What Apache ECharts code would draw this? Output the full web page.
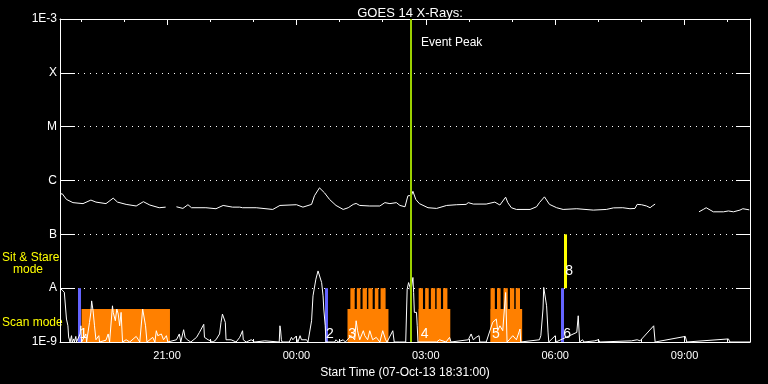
<!DOCTYPE html>
<html><head><meta charset="utf-8">
<script src="https://cdn.jsdelivr.net/npm/echarts@6/dist/echarts.min.js"></script>
<style>html,body{margin:0;padding:0;background:#000}#c{width:768px;height:384px}</style>
</head><body><div id="c"></div>
<script>
// ---------------- data ----------------
const startTime = "18:31";
const spanHours = 16;
const tickLabels = ["21:00","00:00","03:00","06:00","09:00"];
const minorTickTimes = ["19:00","20:00","21:00","22:00","23:00","00:00","01:00","02:00","03:00","04:00","05:00","06:00","07:00","08:00","09:00","10:00"];
const yLevels = [1e-9,1e-8,1e-7,1e-6,1e-5,1e-4,1e-3];
const yLevelNames = ["1E-9","A","B","C","M","X","1E-3"];

// GOES long channel (1-8 A)
const longTimes = ["18:31","18:34","18:40","18:49","19:03","19:14","19:21","19:35","19:45","19:51","20:03","20:17","20:27","20:36","20:49","20:58","21:05","21:13","21:22","21:29","21:34","21:54","22:08","22:18","22:31","22:41","22:45","23:04","23:27","23:37","00:00","00:09","00:21","00:25","00:32","00:39","00:46","00:55","01:05","01:12","01:19","01:23","01:28","01:42","01:56","02:03","02:10","02:19","02:24","02:31","02:35","02:40","02:42","02:46","02:51","03:03","03:15","03:29","03:43","03:56","03:59","04:06","04:24","04:36","04:43","04:51","04:54","04:59","05:06","05:25","05:34","05:38","05:45","05:52","06:02","06:11","06:30","06:53","07:11","07:21","07:34","07:44","07:51","07:54","08:00","08:07","08:12","08:15","08:19","08:50","09:20","09:26","09:30","09:40","09:54","10:01","10:08","10:17","10:21","10:30"];
const longFlux = [5.5e-7,5.7e-7,4.45e-7,3.88e-7,3.72e-7,4.33e-7,3.97e-7,3.72e-7,4.7e-7,3.97e-7,3.6e-7,3.36e-7,4.04e-7,3.5e-7,3.12e-7,3.2e-7,null,3.25e-7,3.03e-7,3.55e-7,3.12e-7,3.12e-7,2.99e-7,3.44e-7,3.2e-7,3.2e-7,3.12e-7,3.12e-7,2.9e-7,3.44e-7,3.55e-7,3.2e-7,3.6e-7,5.2e-7,7.3e-7,5.9e-7,4.45e-7,3.44e-7,2.9e-7,3.12e-7,3.6e-7,3.75e-7,3.44e-7,3.36e-7,3.36e-7,3.88e-7,3.72e-7,3.88e-7,3.44e-7,3.25e-7,5.2e-7,5.27e-7,6.3e-7,4.45e-7,3.72e-7,3.12e-7,3.03e-7,3.44e-7,3.55e-7,3.6e-7,3.88e-7,3.65e-7,3.65e-7,3.97e-7,3.5e-7,4.9e-7,3.88e-7,3.12e-7,2.9e-7,2.9e-7,3.25e-7,3.88e-7,4.97e-7,3.6e-7,3.12e-7,2.9e-7,2.99e-7,2.82e-7,2.9e-7,3.1e-7,3.12e-7,2.99e-7,3.03e-7,3.6e-7,3.55e-7,3.36e-7,3.12e-7,3.36e-7,3.65e-7,null,2.62e-7,2.9e-7,3.12e-7,2.62e-7,2.62e-7,2.72e-7,2.62e-7,2.82e-7,2.99e-7,2.85e-7];

// GOES short channel (0.5-4 A)
const shortTimes = ["18:31","18:34","18:37","18:40","18:42","18:43","18:45","18:47","18:48","18:50","18:51","18:53","18:54","18:59","19:00","19:01","19:07","19:08","19:12","19:14","19:15","19:17","19:19","19:21","19:25","19:26","19:35","19:38","19:40","19:44","19:45","19:48","19:50","19:52","19:54","19:56","19:58","20:03","20:08","20:17","20:22","20:26","20:28","20:30","20:32","20:40","20:43","20:45","20:47","20:52","20:55","20:59","21:01","21:13","21:17","21:19","21:23","21:25","21:28","21:33","21:41","21:45","21:51","21:52","21:57","22:04","22:08","22:13","22:15","22:17","22:19","22:21","22:22","22:29","22:36","22:41","22:45","22:46","22:50","22:57","23:02","23:16","23:18","23:36","23:37","23:38","23:39","23:40","23:50","23:53","23:55","23:59","00:02","00:05","00:07","00:14","00:16","00:21","00:23","00:27","00:30","00:32","00:35","00:37","00:38","00:40","00:41","00:53","00:55","00:58","01:05","01:08","01:16","01:21","01:23","01:25","01:28","01:33","01:35","01:39","01:42","01:46","01:51","01:56","02:00","02:04","02:06","02:14","02:16","02:23","02:32","02:34","02:36","02:38","02:39","02:42","02:43","02:44","02:47","02:48","02:49","03:15","03:19","03:28","03:33","03:35","03:59","04:03","04:06","04:10","04:14","04:15","04:24","04:33","04:38","04:40","04:43","04:47","04:51","04:53","04:56","05:01","05:06","05:11","05:12","05:38","05:40","05:43","05:44","05:46","05:48","05:50","05:51","06:00","06:01","06:30","06:32","06:34","06:38","06:40","06:55","07:00","07:02","07:46","07:54","07:58","08:00","08:17","08:19","09:01","09:03","10:01","10:03","10:31"];
const shortFlux = [1.0e-8,9.2e-9,8.4e-9,2.67e-9,2.0e-9,1.24e-9,1e-9,1.31e-9,1e-9,1.14e-9,1e-9,1.27e-9,1e-9,1.41e-9,2e-9,1e-9,1.41e-9,1e-9,2.3e-9,3.6e-9,5.8e-9,3.8e-9,2e-9,1.1e-9,1.31e-9,1e-9,1.08e-9,1.41e-9,1e-9,4.7e-9,3.55e-9,2.48e-9,4.1e-9,3.3e-9,2e-9,3.55e-9,1e-9,1.1e-9,1e-9,1.27e-9,1e-9,4.1e-9,4.1e-9,2e-9,1e-9,1.22e-9,1e-9,1.62e-9,1.31e-9,1.41e-9,1.1e-9,1.31e-9,1e-9,1.1e-9,1.41e-9,1e-9,1.69e-9,1.22e-9,1.1e-9,1e-9,1.22e-9,1.51e-9,2.13e-9,1.22e-9,1.1e-9,1e-9,1.1e-9,1.41e-9,2.32e-9,3.3e-9,3.55e-9,2.32e-9,1.1e-9,1.1e-9,1e-9,1.22e-9,1.62e-9,1.1e-9,1e-9,1.1e-9,1e-9,1.05e-9,1e-9,1e-9,2e-9,1.6e-9,1.1e-9,1e-9,1e-9,1.22e-9,1.1e-9,1.27e-9,1e-9,1.31e-9,1.1e-9,1.1e-9,1e-9,2.48e-9,7.2e-9,1.47e-8,2.09e-8,1.96e-8,1.27e-8,7.2e-9,4.1e-9,2e-9,1e-9,1e-9,1.1e-9,1e-9,1.1e-9,1e-9,1.31e-9,1.1e-9,2.48e-9,1.62e-9,1.1e-9,1.62e-9,1.31e-9,1.1e-9,1.62e-9,1.1e-9,1.22e-9,1e-9,1.62e-9,1.1e-9,1e-9,1.62e-9,1e-9,1e-9,1e-9,9.6e-9,1.27e-8,1.03e-8,8.3e-9,1.58e-8,8.3e-9,3.55e-9,3.55e-9,2e-9,1e-9,1e-9,1.1e-9,1e-9,1.22e-9,1e-9,1.1e-9,1.41e-9,1.1e-9,1.22e-9,1.31e-9,1e-9,1e-9,2.32e-9,2.67e-9,1.62e-9,2e-9,1.62e-9,8.3e-9,1e-9,1.1e-9,1.31e-9,1.1e-9,1.74e-9,1e-9,1.1e-9,1.31e-9,4.1e-9,1.03e-8,9.6e-9,4.7e-9,1.53e-9,1e-9,1.31e-9,1e-9,1.51e-9,3.07e-9,1e-9,1.1e-9,1e-9,1.05e-9,1.1e-9,1e-9,1.05e-9,1.1e-9,1.05e-9,1e-9,2e-9,1e-9,1.27e-9,1e-9,1.14e-9,1e-9,1e-9];

// IRIS observation periods
const scanStarts = ["19:01","01:11","02:50","04:30"];
const scanEnds   = ["21:04","02:08","03:34","05:14"];
const scanTop = 4.1e-9;
const stareStarts = ["01:15","01:24","01:32","01:40","01:49","01:57","02:50","02:59","03:07","03:15","03:24","04:30","04:39","04:48","04:57","05:05"];
const stareEnds   = ["01:21","01:29","01:38","01:46","01:54","02:04","02:56","03:04","03:13","03:21","03:30","04:36","04:44","04:54","05:03","05:11"];
const stareTop = 1e-8;
const scanMarkerTimes = ["18:57","00:41","06:10"];
const stareMarkerTimes = ["06:13"];
const eventPeakTime = "02:40";
const obsLabels = ["1","2","3","4","5","6","8"];
const obsLabelTimes = ["18:58","00:41","01:12","02:53","04:32","06:11","06:14"];
const obsLabelLevels = [1e-9,1e-9,1e-9,1e-9,1e-9,1e-9,1.5e-8];

// ---------------- helpers ----------------
function toH(s){ const p=s.split(':'); let v=+p[0]+(+p[1])/60; if(v<18) v+=24; return v; }
const xMin = toH(startTime), xMax = xMin + spanHours;
const majorVals = tickLabels.map(toH);
const minorVals = minorTickTimes.map(toH);
const FLOOR = yLevels[0], A_LEVEL = yLevels[1], B_LEVEL = yLevels[2], TOP = yLevels[yLevels.length-1];
const FONT = 'Liberation Sans';

function rectItem(color){
  return function(params, api){
    const p1 = api.coord([api.value(0), api.value(3)]);
    const p2 = api.coord([api.value(1), api.value(2)]);
    return {type:'rect', shape:{x:p1[0], y:p1[1], width:p2[0]-p1[0], height:p2[1]-p1[1]}, style:{fill:color}};
  };
}
function barItem(color){
  return function(params, api){
    const p1 = api.coord([api.value(0), api.value(2)]);
    const p2 = api.coord([api.value(0), api.value(1)]);
    const x = Math.round(p1[0]) - 1;
    return {type:'rect', shape:{x:x, y:p1[1], width:3, height:p2[1]-p1[1]}, style:{fill:color}};
  };
}

const xCommon = {type:'value', min:xMin, max:xMax, splitLine:{show:false}};
const chart = echarts.init(document.getElementById('c'), null, {renderer:'canvas'});
chart.setOption({
  backgroundColor:'#000',
  animation:false,
  title:{text:'GOES 14 X-Rays:', left:405, top:2, textAlign:'center',
    textStyle:{color:'#fff', fontFamily:FONT, fontSize:13, fontWeight:'normal'}},
  grid:{left:60, right:18, top:19, bottom:41},
  graphic:[
    {type:'text', left:2, top:252, style:{text:'Sit & Stare', fill:'#ffff00', font:'12px '+FONT}},
    {type:'text', left:13, top:264, style:{text:'mode', fill:'#ffff00', font:'12px '+FONT}},
    {type:'text', left:2, top:317, style:{text:'Scan mode', fill:'#ffff00', font:'12px '+FONT}}
  ],
  xAxis:[
    Object.assign({}, xCommon, {position:'bottom',
      axisLine:{lineStyle:{color:'#fff', width:1}},
      axisTick:{inside:true, length:6, customValues:majorVals, lineStyle:{color:'#fff'}},
      axisLabel:{customValues:majorVals, color:'#fff', fontFamily:FONT, fontSize:11, margin:8,
        formatter:function(v){ const i = majorVals.findIndex(m=>Math.abs(m-v)<1e-6); return i>=0?tickLabels[i]:''; }},
      name:'Start Time (07-Oct-13 18:31:00)', nameLocation:'middle', nameGap:25,
      nameTextStyle:{color:'#fff', fontFamily:FONT, fontSize:12}}),
    Object.assign({}, xCommon, {position:'bottom', axisLine:{show:false},
      axisTick:{inside:true, length:3, customValues:minorVals, lineStyle:{color:'#fff'}}, axisLabel:{show:false}}),
    Object.assign({}, xCommon, {position:'top', axisLine:{lineStyle:{color:'#fff'}},
      axisTick:{inside:true, length:6, customValues:majorVals, lineStyle:{color:'#fff'}}, axisLabel:{show:false}}),
    Object.assign({}, xCommon, {position:'top', axisLine:{show:false},
      axisTick:{inside:true, length:3, customValues:minorVals, lineStyle:{color:'#fff'}}, axisLabel:{show:false}})
  ],
  yAxis:[
    {type:'log', logBase:10, min:FLOOR, max:TOP, position:'left',
      axisLine:{show:true, lineStyle:{color:'#fff'}},
      axisTick:{show:true, inside:true, length:15, lineStyle:{color:'#fff'}},
      axisLabel:{color:'#fff', fontFamily:FONT, fontSize:12, margin:3,
        formatter:function(v){ const i = yLevels.findIndex(l=>Math.abs(Math.log10(l)-Math.log10(v))<1e-6); return i>=0?yLevelNames[i]:''; }},
      splitLine:{show:true, lineStyle:{color:'#fff', type:[1,5], width:1}},
      minorTick:{show:false}},
    {type:'log', logBase:10, min:FLOOR, max:TOP, position:'right',
      axisLine:{show:true, lineStyle:{color:'#fff'}},
      axisTick:{show:true, inside:true, length:14, lineStyle:{color:'#fff'}},
      axisLabel:{show:false}, splitLine:{show:false}}
  ],
  series:[
    {type:'custom', name:'scan', renderItem:rectItem('#ff8000'), encode:{x:[0,1], y:[2,3]}, z:1,
      data:scanStarts.map((s,i)=>[toH(s), toH(scanEnds[i]), FLOOR, scanTop])},
    {type:'custom', name:'stare', renderItem:rectItem('#ff8000'), encode:{x:[0,1], y:[2,3]}, z:1,
      data:stareStarts.map((s,i)=>[toH(s), toH(stareEnds[i]), FLOOR, stareTop])},
    {type:'custom', name:'scanMarker', renderItem:barItem('#6464ff'), encode:{x:0, y:[1,2]}, z:2,
      data:scanMarkerTimes.map(t=>[toH(t), FLOOR, A_LEVEL])},
    {type:'custom', name:'stareMarker', renderItem:barItem('#ffff00'), encode:{x:0, y:[1,2]}, z:2,
      data:stareMarkerTimes.map(t=>[toH(t), A_LEVEL, B_LEVEL])},
    {type:'line', name:'short', showSymbol:false, symbol:'none', z:3, connectNulls:false,
      lineStyle:{color:'#fff', width:1}, data:shortTimes.map((t,i)=>[toH(t), shortFlux[i]])},
    {type:'line', name:'long', showSymbol:false, symbol:'none', z:3, connectNulls:false,
      lineStyle:{color:'#fff', width:1}, data:longTimes.map((t,i)=>[toH(t), longFlux[i]])},
    {type:'custom', name:'event', z:4, encode:{x:0, y:[1,2]},
      data:[[toH(eventPeakTime), FLOOR, TOP]],
      renderItem:function(params, api){
        const p1 = api.coord([api.value(0), api.value(2)]);
        const p2 = api.coord([api.value(0), api.value(1)]);
        const x = Math.round(p1[0]);
        return {type:'group', children:[
          {type:'line', shape:{x1:x, y1:p1[1], x2:x, y2:p2[1]}, style:{stroke:'#9bd000', lineWidth:2}},
          {type:'text', x:x+10, y:p1[1]+24, style:{text:'Event Peak', fill:'#fff', font:'12px '+FONT, align:'left', verticalAlign:'middle'}}
        ]};
      }},
    {type:'custom', name:'labels', z:5, encode:{x:0, y:1},
      data:obsLabelTimes.map((t,i)=>[toH(t), obsLabelLevels[i], obsLabels[i]]),
      renderItem:function(params, api){
        const p = api.coord([api.value(0), api.value(1)]);
        return {type:'text', x:p[0], y:p[1]-1, style:{text:obsLabels[params.dataIndex], fill:'#fff', font:'14px '+FONT, align:'left', verticalAlign:'bottom'}};
      }}
  ]
});
</script></body></html>
